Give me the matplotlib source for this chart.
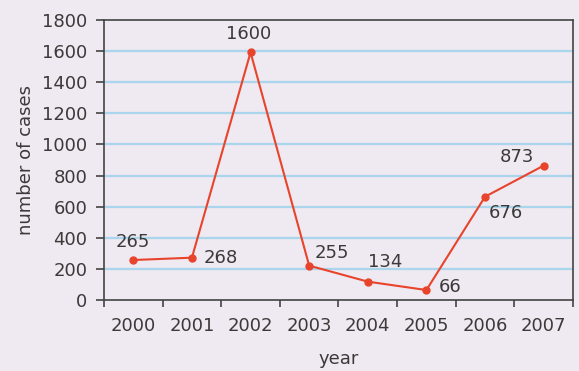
import numpy as np
import matplotlib.pyplot as plt

# ====================== DATA ======================
years = ['2000', '2001', '2002', '2003', '2004', '2005', '2006', '2007']
cases = [257, 272, 1592, 221, 118, 64, 664, 864]   # where the points sit
labels = ['265', '268', '1600', '255', '134', '66', '676', '873']  # printed values
# label offsets from each point (pixels, x right / y up)
offsets = [(0, 18), (29, 0), (-2, 18), (23, 13), (17, 20), (24, 3), (21, -16), (-27, 9)]

bg = '#efe9f1'
txt = '#3a3a3a'

fig = plt.figure(figsize=(5.79, 3.71), dpi=100, facecolor=bg)
ax = fig.add_axes([0.1796, 0.1914, 0.81, 0.7546], facecolor=bg)

x = np.arange(len(years))

# light blue horizontal rules
for yv in range(200, 1800, 200):
    ax.axhline(yv, color='#a9d6ec', lw=1.6, zorder=1)

ax.plot(x, cases, color='#e8442c', lw=1.5, marker='o', ms=5, zorder=3)

for xi, yi, lab, off in zip(x, cases, labels, offsets):
    ax.annotate(lab, (xi, yi), xytext=off, textcoords='offset pixels',
                ha='center', va='center', fontsize=13, color=txt)

ax.set_xlim(-0.5, 7.5)
ax.set_ylim(0, 1800)
ax.set_yticks(range(0, 1801, 200))
ax.set_xticks(np.arange(-0.5, 8, 1))
ax.set_xticklabels([])
ax.set_xticks(x, minor=True)
ax.set_xticklabels(years, minor=True)
ax.tick_params(axis='x', which='minor', length=0, pad=12, labelsize=13, labelcolor=txt)
ax.tick_params(axis='x', which='major', length=5, width=1.2, color='#444444')
ax.tick_params(axis='y', length=6, width=1.2, color='#444444', labelsize=13,
               labelcolor=txt, pad=6)

for s in ax.spines.values():
    s.set_color('#444444')
    s.set_linewidth(1.2)

ax.set_xlabel('year', fontsize=13, color=txt, labelpad=11)
ax.set_ylabel('number of cases', fontsize=13, color=txt, labelpad=5)

fig.savefig('out.png', dpi=100, facecolor=bg)
